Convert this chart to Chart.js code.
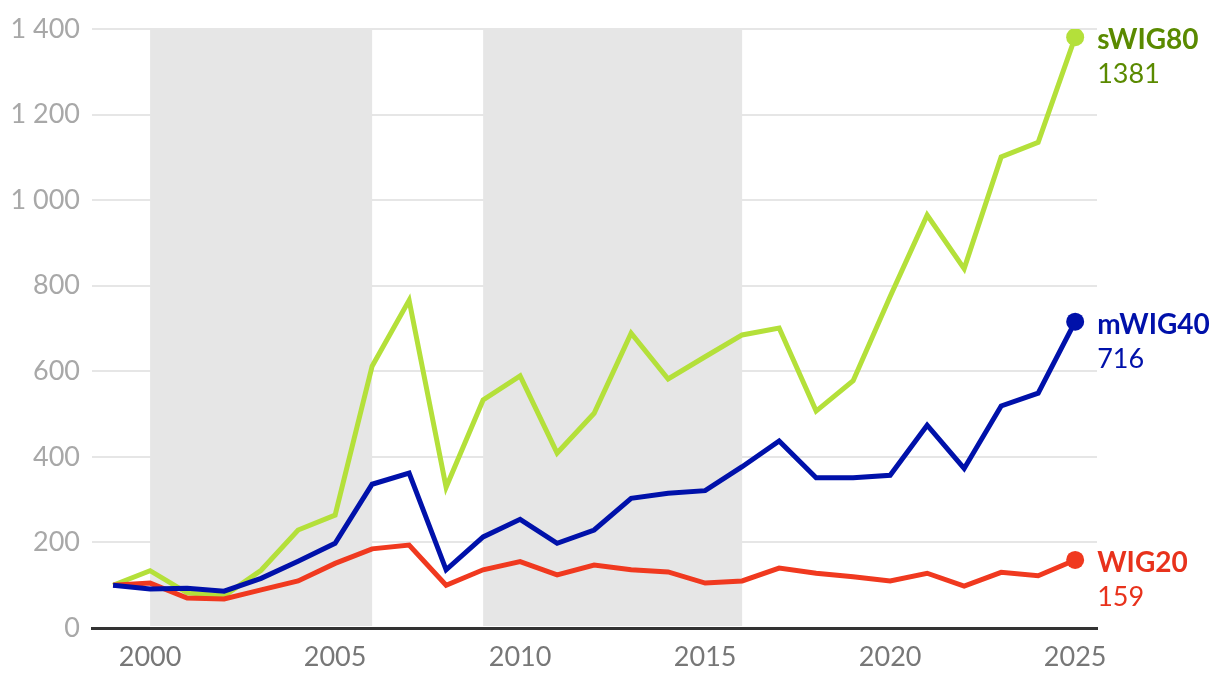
<!DOCTYPE html>
<html>
<head>
<meta charset="utf-8">
<script src="https://cdn.jsdelivr.net/npm/chart.js@4"></script>
<style>
  html, body { margin: 0; padding: 0; background: #fff; }
  #wrap { width: 1220px; height: 684px; }
</style>
</head>
<body>
<div id="wrap"><canvas id="chart" width="1220" height="684"></canvas></div>
<script>
const years = [1999, 2000, 2001, 2002, 2003, 2004, 2005, 2006, 2007, 2008, 2009, 2010, 2011, 2012,
               2013, 2014, 2015, 2016, 2017, 2018, 2019, 2020, 2021, 2022, 2023, 2024, 2025];
const swig80 = [100, 134, 82, 75, 135, 229, 264, 612, 766, 329, 533, 589, 409, 502,
                689, 582, 634, 685, 701, 507, 578, 775, 965, 840, 1101, 1135, 1381];
const mwig40 = [100, 91, 93, 86, 116, 156, 198, 336, 362, 136, 213, 254, 198, 229,
                303, 315, 321, 377, 437, 351, 351, 357, 474, 373, 519, 549, 716];
const wig20 = [100, 105, 70, 68, 89, 110, 151, 185, 194, 100, 136, 155, 124, 147,
               136, 131, 105, 110, 140, 128, 120, 110, 128, 98, 130, 122, 159];
const xTicks = [2000, 2005, 2010, 2015, 2020, 2025];
const yTicks = [0, 200, 400, 600, 800, 1000, 1200, 1400];
const shadedPeriods = [[2000, 2006], [2009, 2016]];

const series = [
  { name: 'mWIG40', values: mwig40, line: '#0011aa', text: '#0011aa', order: 0 },
  { name: 'WIG20', values: wig20, line: '#f0391f', text: '#e8321c', order: 1 },
  { name: 'sWIG80', values: swig80, line: '#b4e03a', text: '#5a8a00', order: 2 }
];

const last = years.length - 1;

// grey bands behind the lines
const shading = {
  id: 'shading',
  beforeDatasetsDraw(chart) {
    const { ctx, scales: { x, y } } = chart;
    ctx.save();
    ctx.fillStyle = '#e6e6e6';
    shadedPeriods.forEach(([a, b]) => {
      const x1 = x.getPixelForValue(a), x2 = x.getPixelForValue(b);
      const top = y.getPixelForValue(1400), bottom = y.getPixelForValue(0) - 2;
      ctx.fillRect(x1, top, x2 - x1, bottom - top);
    });
    ctx.restore();
  }
};

// name + last value at the end of each line
const endLabels = {
  id: 'endLabels',
  afterDatasetsDraw(chart) {
    const ctx = chart.ctx;
    ctx.save();
    ctx.textAlign = 'left';
    ctx.textBaseline = 'alphabetic';
    chart.data.datasets.forEach((ds, i) => {
      const pt = chart.getDatasetMeta(i).data[last];
      const s = series.find(s => s.name === ds.label);
      ctx.fillStyle = s.text;
      ctx.font = 'bold 28px Lato';
      ctx.fillText(ds.label, pt.x + 22, pt.y + 12);
      ctx.font = '27px Lato';
      ctx.fillText(String(s.values[last]), pt.x + 22, pt.y + 46);
    });
    ctx.restore();
  }
};

new Chart(document.getElementById('chart'), {
  type: 'line',
  data: {
    datasets: series.map(s => ({
      label: s.name,
      data: years.map((yr, i) => ({ x: yr, y: s.values[i] })),
      borderColor: s.line,
      backgroundColor: s.line,
      borderWidth: 5,
      pointRadius: c => c.dataIndex === last ? 9 : 0,
      pointBorderWidth: 0,
      pointHoverRadius: 0,
      tension: 0,
      order: s.order
    }))
  },
  options: {
    responsive: false,
    animation: false,
    layout: { padding: { top: 29, right: 123, left: 0, bottom: 0 } },
    plugins: { legend: { display: false }, tooltip: { enabled: false } },
    scales: {
      x: {
        type: 'linear',
        min: 1998.43,
        max: 2025.59,
        afterBuildTicks: sc => { sc.ticks = xTicks.map(v => ({ value: v })); },
        afterFit: sc => { sc.height = 56; },
        grid: { display: false, drawTicks: false },
        border: { display: true, color: '#333', width: 3 },
        ticks: {
          color: '#777',
          font: { family: 'Lato', size: 27 },
          padding: 13,
          maxRotation: 0,
          callback: v => String(v)
        }
      },
      y: {
        min: 0,
        max: 1400,
        afterBuildTicks: sc => { sc.ticks = yTicks.map(v => ({ value: v })); },
        afterFit: sc => { sc.width = 92; },
        grid: {
          color: c => c.tick && c.tick.value === 0 ? 'rgba(0,0,0,0)' : '#e6e6e6',
          lineWidth: 2,
          drawTicks: false
        },
        border: { display: false },
        ticks: {
          color: '#a8a8a8',
          font: { family: 'Lato', size: 27 },
          padding: 12,
          callback: v => String(v).replace(/\B(?=(\d{3})+(?!\d))/g, ' ')
        }
      }
    }
  },
  plugins: [shading, endLabels]
});
</script>
</body>
</html>
